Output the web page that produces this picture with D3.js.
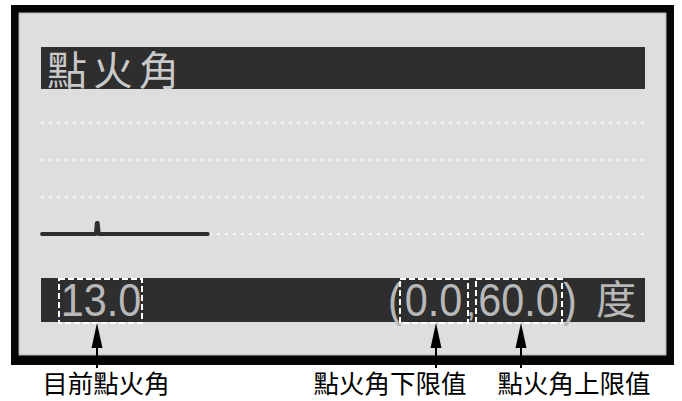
<!DOCTYPE html>
<html><head><meta charset="utf-8">
<script src="https://cdn.jsdelivr.net/npm/d3@7"></script>
<style>
html,body{margin:0;padding:0;background:#fff;}
svg{display:block;}
</style></head>
<body>
<svg id="c" width="682" height="401"></svg>
<script>
// ---- data ----
const title = "點火角";
const unit = "度";
const currentValue = "13.0";
const lowerLimit = "0.0";
const upperLimit = "60.0";
const gridValues = [0, 20, 40, 60];
const trendTimes = [0, 10.7, 10.9, 11.1, 11.3, 33];
const trendValues = [0, 0, 6, 6, 0, 0];
const timeDomain = [0, 120];
const valueDomain = [0, 60];
const calloutLabels = ["目前點火角", "點火角下限值", "點火角上限值"];

// ---- drawing ----
const svg = d3.select("#c");
const cjk = "'Noto Sans CJK TC','Noto Sans CJK SC',sans-serif";
const latin = "'Liberation Sans',Arial,sans-serif";

const x = d3.scaleLinear().domain(timeDomain).range([42, 645]);
const y = d3.scaleLinear().domain(valueDomain).range([234, 123]);

// frame
svg.append("rect").attr("x", 11).attr("y", 5).attr("width", 663).attr("height", 360).attr("fill", "#050505");
svg.append("rect").attr("x", 19).attr("y", 13).attr("width", 647).attr("height", 342)
  .attr("fill", "#dedede").attr("stroke", "#b5b5b5").attr("stroke-width", 1);

// title bar
svg.append("rect").attr("x", 41).attr("y", 47).attr("width", 604).attr("height", 42).attr("fill", "#2e2e2e");
svg.append("text").attr("x", 47).attr("y", 85).text(title)
  .attr("font-family", cjk).attr("font-size", 40).attr("letter-spacing", 6).attr("fill", "#c9c9c9");

// dotted grid
svg.append("g").selectAll("line").data(gridValues).join("line")
  .attr("x1", 41).attr("x2", 645).attr("y1", d => y(d)).attr("y2", d => y(d))
  .attr("stroke", "#f6f6f6").attr("stroke-width", 2).attr("stroke-dasharray", "3,5");

// trend line
const pts = trendTimes.map((t, i) => [t, trendValues[i]]);
svg.append("path").datum(pts)
  .attr("d", d3.line().x(d => x(d[0])).y(d => y(d[1])))
  .attr("fill", "none").attr("stroke", "#2e2e2e").attr("stroke-width", 3.8)
  .attr("stroke-linejoin", "round").attr("stroke-linecap", "round");

// value bar
svg.append("rect").attr("x", 41).attr("y", 278).attr("width", 604).attr("height", 44).attr("fill", "#2e2e2e");
const tcol = "#b8b8b8";
function t(xp, s, size) {
  return svg.append("text").attr("transform", `translate(${xp},316) scale(0.9,1)`)
    .attr("text-anchor", "middle")
    .attr("font-family", latin).attr("font-size", size || 46).attr("fill", tcol).text(s);
}
t(101, currentValue);
t(395, "(");
t(433.5, lowerLimit);
t(471, ",", 36);
t(518.5, upperLimit);
t(570, ")");
svg.append("text").attr("x", 616).attr("y", 314).attr("text-anchor", "middle")
  .attr("font-family", cjk).attr("font-size", 40).attr("fill", tcol).text(unit);

// dashed highlight boxes
const boxes = [[59, 142], [400, 468], [476, 562]];
svg.append("g").selectAll("rect").data(boxes).join("rect")
  .attr("x", d => d[0]).attr("y", 279).attr("width", d => d[1] - d[0]).attr("height", 44)
  .attr("fill", "none").attr("stroke", "#fff").attr("stroke-width", 2).attr("stroke-dasharray", "6,3");

// arrows + labels
const arrowX = [97, 436, 521];
const labelX = [106, 390, 574];
const g = svg.append("g");
arrowX.forEach((ax, i) => {
  g.append("line").attr("x1", ax).attr("x2", ax).attr("y1", 340).attr("y2", 368).attr("stroke", "#000").attr("stroke-width", 2);
  g.append("path").attr("d", `M${ax},323 L${ax - 5.5},348 L${ax + 5.5},348 Z`).attr("fill", "#000");
  g.append("text").attr("x", labelX[i]).attr("y", 393).attr("text-anchor", "middle")
    .attr("font-family", cjk).attr("font-size", 25.5).attr("fill", "#000").text(calloutLabels[i]);
});
</script>
</body></html>
